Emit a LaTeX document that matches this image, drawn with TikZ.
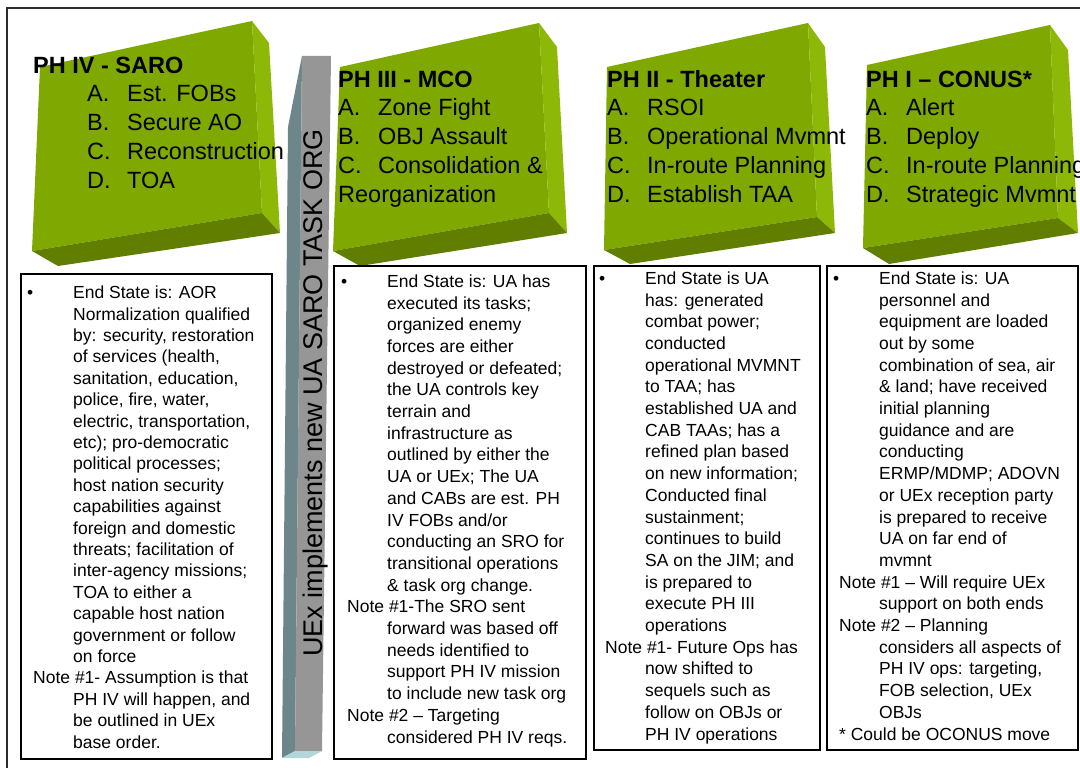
\documentclass[tikz,border=0pt]{standalone}
\usepackage{fontspec}
\setmainfont{Liberation Sans}
\definecolor{phfront}{RGB}{127,168,0}
\definecolor{phside}{RGB}{141,184,8}
\definecolor{phbottom}{RGB}{98,126,0}
\definecolor{barfront}{RGB}{150,150,150}
\definecolor{barside}{RGB}{108,134,138}
\definecolor{barfoot}{RGB}{178,214,218}
\definecolor{framegray}{RGB}{45,45,45}
\newcommand{\bul}{\makebox[40pt][l]{\hspace*{-6pt}\textbullet}}
\newcommand{\ind}{\hspace*{40pt}}
\newcommand{\itm}[2]{\makebox[40pt][l]{#1}#2}
\begin{document}
\begin{tikzpicture}[x=1pt,y=-1pt,
	endbox/.style={draw=black,line width=1.5pt,fill=white},
	endtext/.style={anchor=base west,align=left,inner sep=0pt,font=\fontsize{17.5}{21.7}\selectfont},
	phtext/.style={anchor=base west,align=left,inner sep=0pt,font=\fontsize{23.5}{28.7}\selectfont}]
	\useasboundingbox (0,0) rectangle (1080,768);
	\draw [framegray,line width=1.5pt] (7,768) -- (7,8) -- (1080,8);

	% phase blocks
	\fill [phfront] (40,67) -- (252,21) -- (262,213) -- (32,251) -- cycle;
	\fill [phside] (252,21) -- (269,43) -- (280,233) -- (262,213) -- cycle;
	\fill [phbottom] (32,251) -- (262,213) -- (280,233) -- (58,266) -- cycle;

	\fill [phfront] (340,67) -- (539,23) -- (549,213) -- (333,251) -- cycle;
	\fill [phside] (539,23) -- (557,47) -- (567,233) -- (549,213) -- cycle;
	\fill [phbottom] (333,251) -- (549,213) -- (567,233) -- (360,266) -- cycle;

	\fill [phfront] (607,67) -- (808,23) -- (817,217) -- (604,250) -- cycle;
	\fill [phside] (808,23) -- (825,47) -- (835,233) -- (817,217) -- cycle;
	\fill [phbottom] (604,250) -- (817,217) -- (835,233) -- (630,264) -- cycle;

	\fill [phfront] (867,65) -- (1050,25) -- (1058,218) -- (863,248) -- cycle;
	\fill [phside] (1050,25) -- (1068,50) -- (1078,233) -- (1058,218) -- cycle;
	\fill [phbottom] (863,248) -- (1058,218) -- (1078,233) -- (889,264) -- cycle;

	% (base of a node = its last line)
	\node [phtext] (ph4) at (33,188) {\textbf{PH IV - SARO}\\
		\hspace*{54pt}\itm{A.}{Est. FOBs}\\ \hspace*{54pt}\itm{B.}{Secure AO}\\
		\hspace*{54pt}\itm{C.}{Reconstruction}\\ \hspace*{54pt}\itm{D.}{TOA}};
	\node [phtext] (ph3) at (338,202) {\textbf{PH III - MCO}\\ \itm{A.}{Zone Fight}\\
		\itm{B.}{OBJ Assault}\\ \itm{C.}{Consolidation \&}\\ Reorganization};
	\node [phtext] (ph2) at (607,202) {\textbf{PH II - Theater}\\ \itm{A.}{RSOI}\\
		\itm{B.}{Operational Mvmnt}\\ \itm{C.}{In-route Planning}\\ \itm{D.}{Establish TAA}};
	\node [phtext] (ph1) at (866,202) {\textbf{PH I -- CONUS*}\\ \itm{A.}{Alert}\\
		\itm{B.}{Deploy}\\ \itm{C.}{In-route Planning}\\ \itm{D.}{Strategic Mvmnt}};

	% task org bar
	\fill [barside] (288,127) -- (302,56) -- (295,751) -- (282,758) -- cycle;
	\fill [barfront] (302,56) -- (331,56) -- (322,751) -- (295,751) -- cycle;
	\fill [barfoot] (282,758) -- (295,751) -- (322,751) -- (309,758) -- cycle;
	\node [rotate=90,anchor=base,inner sep=0pt,font=\fontsize{27}{32}\selectfont] (bar) at (322,393) {UEx implements new UA SARO TASK ORG};

	% end states
	\draw [endbox] (21,274) rectangle (272,759);
	\node [endtext,font=\fontsize{17.5}{21.4}\selectfont] (end4) at (33,748) {\bul End State is: AOR\\ \ind Normalization qualified\\
		\ind by: security, restoration\\ \ind of services (health,\\ \ind sanitation, education,\\
		\ind police, fire, water,\\ \ind electric, transportation,\\ \ind etc); pro-democratic\\
		\ind political processes;\\ \ind host nation security\\ \ind capabilities against\\
		\ind foreign and domestic\\ \ind threats; facilitation of\\ \ind inter-agency missions;\\
		\ind TOA to either a\\ \ind capable host nation\\ \ind government or follow\\ \ind on force\\
		Note \#1- Assumption is that\\ \ind PH IV will happen, and\\ \ind be outlined in UEx\\ \ind base order.};

	\draw [endbox] (334,266) rectangle (586,759);
	\node [endtext] (end3) at (347,743) {\bul End State is: UA has\\ \ind executed its tasks;\\
		\ind organized enemy\\ \ind forces are either\\ \ind destroyed or defeated;\\
		\ind the UA controls key\\ \ind terrain and\\ \ind infrastructure as\\
		\ind outlined by either the\\ \ind UA or UEx; The UA\\ \ind and CABs are est. PH\\
		\ind IV FOBs and/or\\ \ind conducting an SRO for\\ \ind transitional operations\\
		\ind \& task org change.\\ Note \#1-The SRO sent\\ \ind forward was based off\\
		\ind needs identified to\\ \ind support PH IV mission\\ \ind to include new task org\\
		Note \#2 -- Targeting\\ \ind considered PH IV reqs.};

	\draw [endbox] (594,266) rectangle (820,750);
	\node [endtext] (end2) at (605,740) {\bul End State is UA\\ \ind has: generated\\
		\ind combat power;\\ \ind conducted\\ \ind operational MVMNT\\ \ind to TAA; has\\
		\ind established UA and\\ \ind CAB TAAs; has a\\ \ind refined plan based\\
		\ind on new information;\\ \ind Conducted final\\ \ind sustainment;\\
		\ind continues to build\\ \ind SA on the JIM; and\\ \ind is prepared to\\
		\ind execute PH III\\ \ind operations\\ Note \#1- Future Ops has\\ \ind now shifted to\\
		\ind sequels such as\\ \ind follow on OBJs or\\ \ind PH IV operations};

	\draw [endbox] (827,266) rectangle (1078,750);
	\node [endtext] (end1) at (839,740) {\bul End State is: UA\\ \ind personnel and\\
		\ind equipment are loaded\\ \ind out by some\\ \ind combination of sea, air\\
		\ind \& land; have received\\ \ind initial planning\\ \ind guidance and are\\
		\ind conducting\\ \ind ERMP/MDMP; ADOVN\\ \ind or UEx reception party\\
		\ind is prepared to receive\\ \ind UA on far end of\\ \ind mvmnt\\
		Note \#1 -- Will require UEx\\ \ind support on both ends\\ Note \#2 -- Planning\\
		\ind considers all aspects of\\ \ind PH IV ops: targeting,\\ \ind FOB selection, UEx\\
		\ind OBJs\\ * Could be OCONUS move};
\end{tikzpicture}
\end{document}
